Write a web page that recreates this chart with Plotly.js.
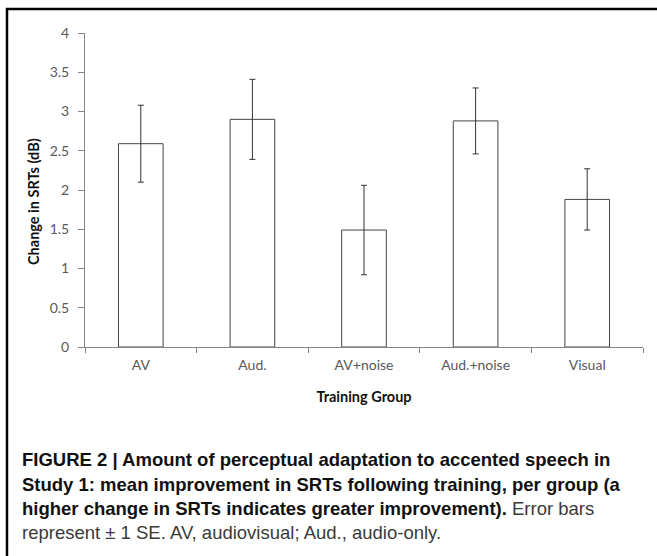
<!DOCTYPE html>
<html>
<head>
<meta charset="utf-8">
<script src="https://cdn.plot.ly/plotly-3.0.1.min.js"></script>
<style>html,body{margin:0;padding:0;background:#fff;}#chart{width:657px;height:556px;}</style>
</head>
<body>
<div id="chart"></div>
<script>
const categories = ["AV", "Aud.", "AV+noise", "Aud.+noise", "Visual"];
const meanChange = [2.59, 2.90, 1.49, 2.88, 1.88];
const standardError = [0.49, 0.51, 0.57, 0.42, 0.39];
const yTickValues = [0, 0.5, 1, 1.5, 2, 2.5, 3, 3.5, 4];
const yTickLabels = ["0", "0.5", "1", "1.5", "2", "2.5", "3", "3.5", "4"];
const xTitle = "Training Group";
const yTitle = "Change in SRTs (dB)";
const captionLines = [
  "<b>FIGURE 2 | Amount of perceptual adaptation to accented speech in</b>",
  "<b>Study 1: mean improvement in SRTs following training, per group (a</b>",
  "<b>higher change in SRTs indicates greater improvement).</b> <span style=\"color:#3a3a3a\">Error bars</span>",
  "<span style=\"color:#3a3a3a\">represent \u00b1 1 SE. AV, audiovisual; Aud., audio-only.</span>"
];

const W = 657, H = 556;
const M = {l: 85, r: 14, t: 33, b: 209};
const pw = W - M.l - M.r, ph = H - M.t - M.b;
const px = x => (x - M.l) / pw;
const py = y => (H - M.b - y) / ph;

const captionFont = {family: "'Liberation Sans', Arial, sans-serif", size: 18.5, color: "#111"};
const captionY = [459, 484, 508, 532];
const annotations = captionLines.map((t, i) => ({
  text: t, xref: "paper", yref: "paper", x: px(20), y: py(captionY[i]),
  xanchor: "left", yanchor: "middle", showarrow: false, align: "left", font: captionFont
}));

const tickFont = {family: "Lato, 'Open Sans', sans-serif", size: 14, color: "#595959"};
const titleFont = {family: "Lato, 'Open Sans', sans-serif", size: 14.5, color: "#111"};

annotations.push({
  text: "<b>" + yTitle + "</b>", xref: "paper", yref: "paper", x: px(33), y: py(202),
  xanchor: "center", yanchor: "middle", textangle: -90, showarrow: false, font: titleFont
});

const trace = {
  type: "bar",
  x: categories,
  y: meanChange,
  marker: {color: "#ffffff", line: {color: "#444444", width: 1}},
  error_y: {type: "data", array: standardError, visible: true, color: "#333333", thickness: 1, width: 3},
  hoverinfo: "none"
};

const layout = {
  width: W, height: H,
  margin: M,
  paper_bgcolor: "#fff", plot_bgcolor: "#fff",
  showlegend: false,
  bargap: 0.6,
  font: {family: "Lato, 'Open Sans', sans-serif", color: "#595959", size: 14},
  xaxis: {
    type: "category", range: [-0.5, 4.5], tickson: "boundaries",
    showline: true, linecolor: "#868686", linewidth: 1,
    ticks: "outside", ticklen: 5, tickcolor: "#868686",
    ticklabelstandoff: 5,
    showgrid: false, zeroline: false,
    tickfont: tickFont,
    title: {text: "<b>" + xTitle + "</b>", font: titleFont, standoff: 20}
  },
  yaxis: {
    range: [0, 4], tickvals: yTickValues, ticktext: yTickLabels,
    showline: true, linecolor: "#868686", linewidth: 1,
    ticks: "outside", ticklen: 6, tickcolor: "#868686",
    ticklabelstandoff: 6,
    showgrid: false, zeroline: false,
    tickfont: tickFont
  },
  annotations: annotations,
  shapes: [
    {type: "line", xref: "paper", yref: "paper", x0: px(6), x1: px(657), y0: py(9), y1: py(9), line: {color: "#000", width: 2.5}},
    {type: "line", xref: "paper", yref: "paper", x0: px(7), x1: px(7), y0: py(8), y1: py(556), line: {color: "#000", width: 2.5}}
  ]
};

Plotly.newPlot("chart", [trace], layout, {displayModeBar: false, staticPlot: true});
</script>
</body>
</html>
